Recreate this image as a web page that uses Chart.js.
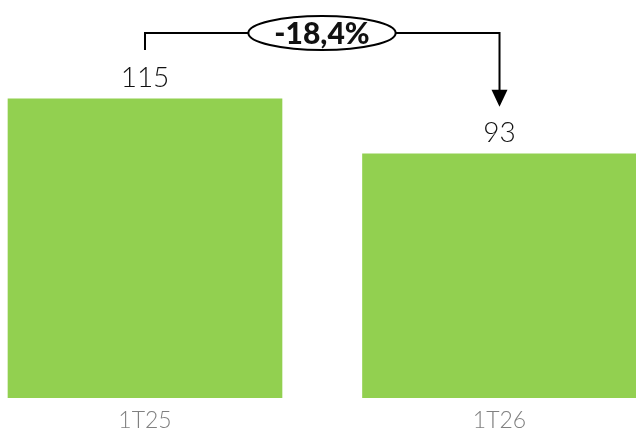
<!DOCTYPE html>
<html>
<head>
<meta charset="utf-8">
<script src="https://cdn.jsdelivr.net/npm/chart.js@4/dist/chart.umd.min.js"></script>
<style>
  html, body { margin: 0; padding: 0; background: #fff; }
  #wrap { width: 636px; height: 430px; }
</style>
</head>
<body>
<div id="wrap"><canvas id="chart"></canvas></div>
<script>
const periods = ['1T25', '1T26'];
const values = [115, 93];
const changeLabel = '-18,4%';

const barGreen = '#92D050';

// bracket + arrow from the first bar to the second, with the % bubble
const changeArrow = {
    id: 'changeArrow',
    afterDatasetsDraw(chart) {
        const ctx = chart.ctx;
        const meta = chart.getDatasetMeta(0);
        const x1 = meta.data[0].x;
        const x2 = meta.data[1].x;
        const lineY = 33;
        const startY = 50;
        const endY = meta.data[1].y - 47;
        const midX = 322;

        ctx.save();
        ctx.font = '900 30px Lato';
        const tw = ctx.measureText(changeLabel).width;
        const rx = tw / 2 + 26;
        const ry = 17;

        ctx.strokeStyle = '#000';
        ctx.lineWidth = 2;
        ctx.beginPath();
        ctx.moveTo(x1, startY);
        ctx.lineTo(x1, lineY);
        ctx.lineTo(midX - rx, lineY);
        ctx.moveTo(midX + rx, lineY);
        ctx.lineTo(x2, lineY);
        ctx.lineTo(x2, endY - 14);
        ctx.stroke();

        // arrow head
        ctx.fillStyle = '#000';
        ctx.beginPath();
        ctx.moveTo(x2 - 8, endY - 17);
        ctx.lineTo(x2 + 8, endY - 17);
        ctx.lineTo(x2, endY);
        ctx.closePath();
        ctx.fill();

        ctx.beginPath();
        ctx.ellipse(midX, lineY, rx, ry, 0, 0, Math.PI * 2);
        ctx.fillStyle = '#fff';
        ctx.fill();
        ctx.stroke();

        ctx.fillStyle = '#111';
        ctx.textAlign = 'center';
        ctx.textBaseline = 'middle';
        ctx.fillText(changeLabel, midX, lineY + 1);
        ctx.restore();
    }
};

// value above each bar
const valueLabels = {
    id: 'valueLabels',
    afterDatasetsDraw(chart) {
        const ctx = chart.ctx;
        const meta = chart.getDatasetMeta(0);
        ctx.save();
        ctx.font = '300 28px Lato';
        ctx.fillStyle = '#111';
        ctx.textAlign = 'center';
        ctx.textBaseline = 'alphabetic';
        meta.data.forEach((bar, i) => {
            ctx.fillText(values[i], bar.x, bar.y - 12);
        });
        ctx.restore();
    }
};

new Chart(document.getElementById('chart'), {
    type: 'bar',
    data: {
        datasets: [{
            data: values.map((v, i) => ({ x: i, y: v })),
            backgroundColor: barGreen,
            borderWidth: 0,
            base: -5,
            barThickness: 274
        }]
    },
    options: {
        responsive: true,
        maintainAspectRatio: false,
        animation: false,
        layout: { padding: 0 },
        plugins: {
            legend: { display: false },
            tooltip: { enabled: false }
        },
        scales: {
            x: {
                type: 'linear',
                offset: false,
                min: -0.409,
                max: 1.385,
                grid: { display: false, drawTicks: false, tickLength: 0 },
                border: { display: false },
                afterFit: (scale) => { scale.height = 32; },
                ticks: {
                    stepSize: 1,
                    includeBounds: false,
                    autoSkip: false,
                    maxRotation: 0,
                    color: '#808080',
                    font: { family: 'Lato', size: 23, weight: 300 },
                    padding: 9,
                    callback: (v) => periods[v] ?? ''
                }
            },
            y: {
                display: false,
                min: -5,
                max: 154.7
            }
        }
    },
    plugins: [changeArrow, valueLabels]
});
</script>
</body>
</html>
